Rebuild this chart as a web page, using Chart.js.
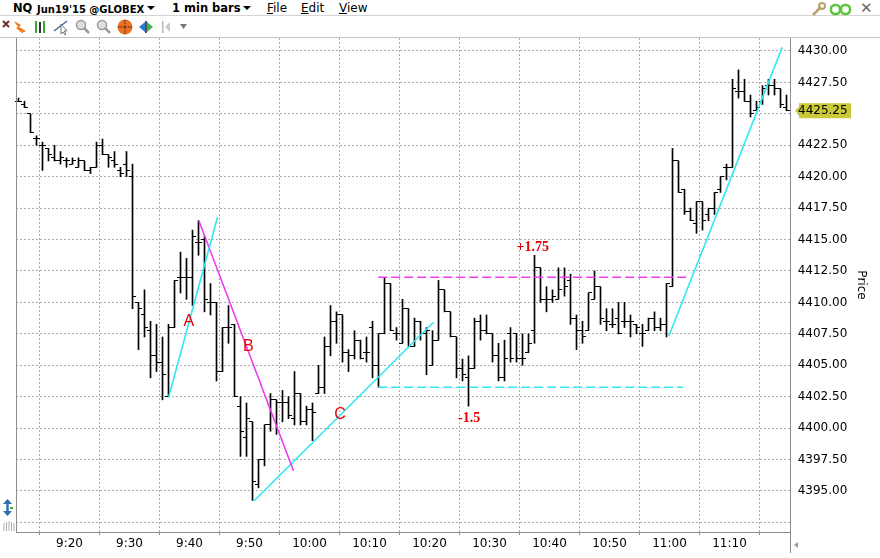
<!DOCTYPE html>
<html>
<head>
<meta charset="utf-8">
<script src="https://cdn.jsdelivr.net/npm/chart.js@4.4.1/dist/chart.umd.min.js"></script>
<style>
html, body { margin: 0; padding: 0; background: #fff; overflow: hidden; }
#wrap { position: relative; width: 880px; height: 558px; overflow: hidden; font-family: "DejaVu Sans", sans-serif; }
#chart { position: absolute; left: 0; top: 0; }
.row1 { position: absolute; left: 0; top: 0; width: 880px; height: 15px; border-bottom: 1px solid #d4d4d4; background: #fff; }
.row2 { position: absolute; left: 0; top: 16px; width: 880px; height: 21px; border-bottom: 1px solid #c4c4c4; background: #fff; }
.t { position: absolute; top: 1px; line-height: 15px; white-space: nowrap; color: #000; }
.b { font-weight: bold; font-size: 11.5px; }
.s { font-weight: bold; font-size: 10px; }
.m { font-size: 12px; }
.m u { text-decoration: underline; }
.tri { position: absolute; width: 0; height: 0; border-left: 4px solid transparent; border-right: 4px solid transparent; border-top: 4px solid #000; }
.close { position: absolute; left: 860px; top: 0; font-size: 15px; line-height: 17px; color: #666; }
svg { position: absolute; }
</style>
</head>
<body>
<div id="wrap">
  <canvas id="chart" width="880" height="558"></canvas>
  <div class="row1">
    <span class="t b" style="left:13px">NQ</span>
    <span class="t s" style="left:37px;top:2px">Jun19'15 @GLOBEX</span>
    <span class="tri" style="left:147px;top:6px"></span>
    <span class="t b" style="left:172px">1 min bars</span>
    <span class="tri" style="left:243px;top:6px"></span>
    <span class="t m" style="left:267px"><u>F</u>ile</span>
    <span class="t m" style="left:301px"><u>E</u>dit</span>
    <span class="t m" style="left:339px"><u>V</u>iew</span>
    <span class="close">✕</span>
  </div>
  <div class="row2"></div>
  <svg width="860" height="38" style="left:0;top:0">
    <!-- toolbar icons -->
    <path d="M3 21 L9 27 M9 21 L3 27" stroke="#7a2c2c" stroke-width="2"/>
    <path d="M14 21 L21 25 L19 27 L26 31 L22 33 L16 28 L18 27 Z" fill="#f07a1c"/>
    <rect x="35" y="21" width="2" height="12" fill="#3ca83c"/>
    <rect x="39" y="22" width="2" height="11" fill="#333"/>
    <rect x="43" y="21" width="2" height="12" fill="#3ca83c"/>
    <path d="M54 31 L67 21" stroke="#4a6a90" stroke-width="1.5"/>
    <path d="M61 24 L61 34 L63 32 L65 35 L66 34 L64 31 L67 31 Z" fill="#fff" stroke="#555" stroke-width="0.8"/>
    <circle cx="81" cy="25" r="4.5" fill="#e0e0e0" stroke="#9a9a9a" stroke-width="1.5"/>
    <path d="M84 28 L89 33" stroke="#9a9a9a" stroke-width="2.5"/>
    <circle cx="102" cy="25" r="4.5" fill="#e0e0e0" stroke="#9a9a9a" stroke-width="1.5"/>
    <path d="M105 28 L110 33" stroke="#9a9a9a" stroke-width="2.5"/>
    <circle cx="125" cy="27" r="7.5" fill="#f07020"/>
    <path d="M125 20 L125 34 M118 27 L132 27" stroke="#222" stroke-width="1" stroke-dasharray="1.5,1"/>
    <path d="M139 27 L145 22 L145 32 Z" fill="#2a7ad0"/>
    <rect x="145" y="21" width="2" height="12" fill="#555"/>
    <path d="M153 27 L147 22 L147 32 Z" fill="#3cb44a"/>
    <rect x="162" y="21" width="1.5" height="12" fill="#b8b8b8"/>
    <path d="M165 27 L170 22 L170 32 Z" fill="#c8c8c8"/>
    <path d="M180 24 L187 24 L183.5 29 Z" fill="#777"/>
    <!-- right icons -->
    <path d="M813 15 L821 7" stroke="#b8a070" stroke-width="2.5"/>
    <circle cx="822" cy="6" r="3" fill="none" stroke="#b8a070" stroke-width="2"/>
    <rect x="831" y="5" width="9" height="9" rx="4" fill="none" stroke="#5cc43c" stroke-width="2.5"/>
    <rect x="841" y="5" width="9" height="9" rx="4" fill="none" stroke="#5cc43c" stroke-width="2.5"/>
  </svg>
  <svg width="20" height="40" style="left:0;top:496px">
    <path d="M7.5 4 L7.5 19" stroke="#2f6fb0" stroke-width="2.5"/>
    <path d="M3 8 L7.5 3 L12 8 Z M3 15 L7.5 20 L12 15 Z" fill="#2f6fb0"/>
    <path d="M10 12 L13 12" stroke="#3ca83c" stroke-width="2"/>
    <path d="M4 27 L4 35 M6.5 26 L6.5 35 M9 25 L9 35 M11.5 26 L11.5 35 M14 27 L14 35" stroke="#b0b0b0" stroke-width="1"/>
  </svg>
  <svg width="12" height="12" style="left:791px;top:540px">
    <path d="M3 5 L7 2 L7 8 Z" fill="#9a9a9a"/>
  </svg>
</div>
<script>
// bar positions: minutes after 9:00, one bar per minute
const FIRST_BAR = 11.5;

const opens = [
  4426, 4425.75, 4425, 4423, 4422.5, 4422.25, 4421.5, 4421.25, 4421.25, 4421,
  4420.75, 4421.25, 4420.5, 4420.75, 4422.5, 4421.75, 4421.25, 4420.5, 4421, 4420,
  4410, 4409, 4407.75, 4405.75, 4405.25, 4402.5, 4408, 4412, 4412, 4412,
  4414.75, 4415, 4410, 4410, 4404.5, 4408, 4408.25, 4401.75, 4399.25, 4400.5,
  4395.5, 4397.5, 4400.25, 4402.25, 4402, 4402, 4400.75, 4402.75, 4400.5, 4401.5,
  4402.75, 4403.25, 4406.5, 4408.5, 4409, 4406, 4405.75, 4407, 4406, 4408,
  4405, 4407.5, 4411.5, 4407.5, 4406.75, 4409.5, 4406.5, 4408.5, 4407.5, 4405,
  4407, 4411, 4409.25, 4407.25, 4404.75, 4404, 4404.75, 4408.5, 4407.75, 4407.5,
  4405.75, 4404, 4407.5, 4407.5, 4405.5, 4406, 4407.75, 4412.75, 4410.25, 4410.25,
  4410.25, 4412, 4411.75, 4408.75, 4407.75, 4407.75, 4410.25, 4411.25, 4408.5, 4408.25,
  4408.75, 4408.5, 4408.5, 4408.25, 4407.5, 4407.75, 4408.75, 4408, 4408.25, 4411.25,
  4421.25, 4419, 4417.25, 4416.25, 4418, 4417, 4417.5, 4419, 4420.75, 4420.75,
  4426.75, 4426.75, 4426, 4425.25, 4426, 4427.25, 4427.25, 4427, 4425.5
];
const highs = [
  4426.25, 4426, 4425, 4423.25, 4422.75, 4422.25, 4422.5, 4422, 4421.5, 4421.5,
  4421.5, 4421.25, 4420.75, 4422.75, 4423, 4421.75, 4422, 4420.75, 4422, 4421,
  4410, 4411, 4408.5, 4408.25, 4407.25, 4408.25, 4411.75, 4414, 4413.5, 4415.75,
  4416.5, 4415.25, 4411.5, 4410, 4408, 4409.75, 4408.25, 4402.5, 4402, 4400.5,
  4397.5, 4400.25, 4402.75, 4402.25, 4403, 4402.5, 4404.5, 4402.75, 4401.75, 4402,
  4405, 4407.25, 4409.75, 4409.25, 4409, 4406.25, 4407.75, 4407, 4407.25, 4408.5,
  4407.5, 4412, 4411.5, 4408, 4410.25, 4409.5, 4408.75, 4408.5, 4408, 4407.75,
  4411.75, 4411, 4409.25, 4407.25, 4405.5, 4405.75, 4408.75, 4409, 4409, 4407.5,
  4406.75, 4407, 4408, 4407.5, 4407.5, 4407.5, 4413.75, 4412.75, 4411.25, 4411,
  4412.75, 4412.75, 4412.25, 4409, 4408.5, 4410.75, 4412.5, 4411.25, 4409.5, 4409.5,
  4410, 4410, 4409, 4408.25, 4408.25, 4408.75, 4409.25, 4408.75, 4411.5, 4422.25,
  4421.25, 4419, 4417.5, 4418, 4418, 4417.5, 4418.75, 4420, 4421, 4427.75,
  4428.5, 4427.75, 4426.5, 4426, 4427.25, 4427.75, 4427.75, 4427, 4426.5
];
const lows = [
  4426, 4425.5, 4423.5, 4422.5, 4420.5, 4421.25, 4421.25, 4421, 4420.75, 4421,
  4420.75, 4420.5, 4420.25, 4420.75, 4421.75, 4420.75, 4420.75, 4420, 4420, 4409.5,
  4406.25, 4407.25, 4404, 4404.5, 4402.25, 4402.5, 4408, 4410.75, 4410.25, 4409.75,
  4413.75, 4409.25, 4409, 4403.75, 4404.5, 4406.75, 4402.5, 4397.75, 4397.75, 4394.25,
  4395.25, 4397, 4399.75, 4399.5, 4400.5, 4400.75, 4400.25, 4400.25, 4400.25, 4399,
  4402.75, 4402.75, 4405.75, 4406.75, 4405.25, 4404.5, 4405.5, 4405.5, 4405.25, 4404,
  4403.25, 4407.5, 4407.75, 4407, 4406.75, 4406.5, 4406.5, 4407, 4404.25, 4405,
  4407, 4409.25, 4407.25, 4404, 4403.75, 4401.75, 4404.75, 4407, 4407.5, 4405.25,
  4403.75, 4403.75, 4405.25, 4405.25, 4405, 4406, 4406.75, 4410, 4409.25, 4410,
  4410.25, 4410.5, 4408.25, 4406.25, 4406.75, 4407.75, 4410.25, 4408.25, 4407.75, 4408,
  4407.5, 4408, 4407.25, 4407.5, 4406.5, 4407.75, 4407.75, 4407.75, 4407.25, 4411.25,
  4418.75, 4417, 4416.5, 4415.5, 4415.75, 4416.5, 4417, 4418.75, 4419.75, 4420.75,
  4426.25, 4426, 4424.75, 4425.25, 4425.75, 4426.5, 4426.5, 4425.5, 4425.25
];
const closes = [
  4426, 4425.5, 4423.5, 4423, 4422.5, 4421.75, 4421.25, 4421.5, 4421.25, 4421.25,
  4421.25, 4420.5, 4420.75, 4422.5, 4421.75, 4421.5, 4421, 4420.25, 4420.5, 4410.5,
  4409.5, 4408, 4405.75, 4405.25, 4404.25, 4408, 4411.75, 4412, 4412, 4415.25,
  4414.75, 4410.25, 4410, 4404.5, 4408, 4408, 4402.5, 4399.75, 4400.75, 4395.75,
  4397.5, 4400.25, 4402.25, 4402, 4402, 4401, 4402.75, 4400.5, 4401.5, 4401.25,
  4403.25, 4406.5, 4408.5, 4409, 4406, 4405.75, 4407, 4405.5, 4406, 4405,
  4407.5, 4411.5, 4407.75, 4407.5, 4409.5, 4406.5, 4408.5, 4407.5, 4407.75, 4407,
  4411, 4409.25, 4407.25, 4404.75, 4404.25, 4404.75, 4408.5, 4407.75, 4407.5, 4405.75,
  4404, 4405.5, 4405.5, 4405.5, 4405.5, 4406.75, 4412.75, 4410.25, 4410.25, 4410.5,
  4411, 4411.25, 4408.75, 4407.75, 4407.25, 4410.75, 4411.25, 4408.75, 4408.5, 4408.25,
  4407.5, 4408.5, 4408.5, 4408, 4407.5, 4408.75, 4408, 4408.25, 4411.5, 4421.25,
  4418.75, 4417.25, 4416.5, 4418, 4416.5, 4417.5, 4418.75, 4420, 4420.75, 4427,
  4426.75, 4426, 4425, 4425.5, 4427, 4427.25, 4427, 4425.75, 4425.25
];

// axis ticks
const xTickMinutes = [20, 30, 40, 50, 60, 70, 80, 90, 100, 110, 120, 130];
const xTickLabels = ['9:20', '9:30', '9:40', '9:50', '10:00', '10:10', '10:20', '10:30', '10:40', '10:50', '11:00', '11:10'];
const yTickValues = [4392.5, 4395, 4397.5, 4400, 4402.5, 4405, 4407.5, 4410, 4412.5, 4415, 4417.5, 4420, 4422.5, 4425, 4427.5, 4430];

// drawn studies (minute, price)
const trendA = [{ x: 36.5, y: 4402.42 }, { x: 44.67, y: 4416.77 }];
const trendB = [{ x: 41.57, y: 4416.5 }, { x: 57.33, y: 4396.61 }];
const trendC = [{ x: 50.73, y: 4394.2 }, { x: 80.67, y: 4408.42 }];
const trendUp = [{ x: 119.9, y: 4407.33 }, { x: 138.78, y: 4430.29 }];
const rangeHigh = [{ x: 71.45, y: 4412 }, { x: 122.8, y: 4412 }];
const rangeLow = [{ x: 71.45, y: 4403.25 }, { x: 122.3, y: 4403.25 }];

const noteTexts = ['A', 'B', 'C', '+1.75', '-1.5'];
const noteX = [39.9, 49.8, 65.1, 97.2, 86.6];
const noteY = [4408.5, 4406.5, 4401.1, 4414.35, 4400.8];

const CYAN = '#30e8f0';
const MAGENTA = '#ee3cee';
const GRID = '#ababab';
const AXIS = '#8c8c8c';

function lineSet(data, color, dash) {
    return { type: 'line', data, borderColor: color, borderWidth: 1.6, borderDash: dash || [], pointRadius: 0, fill: false, order: 1 };
}

// open/close ticks on each high-low bar, snapped to whole pixels
const ohlcTicks = {
    id: 'ohlcTicks',
    afterDatasetDraw(chart, args) {
        if (args.index !== 0) return;
        const { ctx, scales: { x, y } } = chart;
        const snap = v => Math.round(v - 0.5) + 0.5;
        ctx.save();
        ctx.strokeStyle = '#000';
        ctx.lineWidth = 1;
        ctx.beginPath();
        opens.forEach((o, i) => {
            const px = snap(x.getPixelForValue(FIRST_BAR + i));
            const yo = snap(y.getPixelForValue(o)), yc = snap(y.getPixelForValue(closes[i]));
            ctx.moveTo(px - 3.5, yo); ctx.lineTo(px, yo);
            ctx.moveTo(px, yc); ctx.lineTo(px + 3.5, yc);
        });
        ctx.stroke();
        ctx.restore();
    }
};

const notes = {
    id: 'notes',
    afterDatasetsDraw(chart) {
        const { ctx, scales: { x, y } } = chart;
        ctx.save();
        ctx.textAlign = 'center';
        ctx.textBaseline = 'middle';
        ctx.fillStyle = '#e80000';
        noteTexts.forEach((t, i) => {
            ctx.font = i < 3 ? '16px "Liberation Sans"' : 'bold 14px "Liberation Serif"';
            ctx.fillText(t, x.getPixelForValue(noteX[i]), y.getPixelForValue(noteY[i]));
        });
        ctx.restore();
    }
};

// left frame line, axis line extension and last price tag
const frame = {
    id: 'frame',
    afterDraw(chart) {
        const { ctx, chartArea: a, scales: { y } } = chart;
        ctx.save();
        ctx.strokeStyle = AXIS;
        ctx.lineWidth = 1;
        ctx.beginPath();
        ctx.moveTo(a.left + 0.5, a.top); ctx.lineTo(a.left + 0.5, a.bottom);
        ctx.moveTo(a.right + 0.5, a.bottom); ctx.lineTo(a.right + 0.5, 553);
        ctx.stroke();

        const last = closes[closes.length - 1];
        const py = y.getPixelForValue(last);
        ctx.fillStyle = '#c9c93a';
        ctx.beginPath();
        ctx.moveTo(a.right + 5, py);
        ctx.lineTo(a.right + 9, py - 4);
        ctx.lineTo(a.right + 9, py - 7.5);
        ctx.lineTo(a.right + 61, py - 7.5);
        ctx.lineTo(a.right + 61, py + 7.5);
        ctx.lineTo(a.right + 9, py + 7.5);
        ctx.lineTo(a.right + 9, py + 4);
        ctx.closePath();
        ctx.fill();
        ctx.fillStyle = '#000';
        ctx.font = '12px "DejaVu Sans"';
        ctx.textAlign = 'left';
        ctx.textBaseline = 'middle';
        ctx.fillText(last.toFixed(2), a.right + 8, py);
        ctx.restore();
    }
};

new Chart(document.getElementById('chart'), {
    type: 'bar',
    data: {
        datasets: [
            {
                type: 'bar',
                data: highs.map((h, i) => ({ x: FIRST_BAR + i, y: [lows[i], h] })),
                backgroundColor: '#000',
                borderWidth: 0,
                barThickness: 1,
                minBarLength: 1,
                order: 3
            },
            lineSet(trendA, CYAN),
            lineSet(trendB, MAGENTA),
            lineSet(trendC, CYAN),
            lineSet(trendUp, CYAN),
            lineSet(rangeHigh, MAGENTA, [9, 4]),
            lineSet(rangeLow, CYAN, [9, 4])
        ]
    },
    options: {
        responsive: false,
        animation: false,
        layout: { padding: { left: 16, top: 38, right: 0, bottom: 0 } },
        plugins: { legend: { display: false }, tooltip: { enabled: false } },
        scales: {
            x: {
                type: 'linear',
                min: 11.0833,
                max: 140.0833,
                offset: false,
                afterBuildTicks: s => { s.ticks = xTickMinutes.map(v => ({ value: v })); },
                afterFit: s => { s.height = 26; },
                ticks: {
                    autoSkip: false,
                    maxRotation: 0,
                    padding: 2,
                    color: '#000',
                    font: { family: 'DejaVu Sans', size: 12 },
                    callback: v => xTickLabels[xTickMinutes.indexOf(v)]
                },
                grid: { color: GRID, tickLength: 3, tickColor: AXIS },
                border: { color: AXIS, dash: [2, 2] }
            },
            y: {
                position: 'right',
                min: 4391.737,
                max: 4431.034,
                afterBuildTicks: s => { s.ticks = yTickValues.map(v => ({ value: v })); },
                afterFit: s => { s.width = 90; },
                ticks: {
                    padding: 7.7,
                    color: '#000',
                    font: { family: 'DejaVu Sans', size: 12 },
                    callback: v => (v < 4395 ? '' : v.toFixed(2))
                },
                grid: { color: GRID, drawTicks: false },
                border: { color: AXIS, dash: [2, 2] },
                title: {
                    display: true,
                    text: 'Price',
                    color: '#000',
                    font: { family: 'DejaVu Sans', size: 12 },
                    padding: { top: 11.8, bottom: 0 }
                }
            }
        }
    },
    plugins: [ohlcTicks, notes, frame]
});
</script>
</body>
</html>
